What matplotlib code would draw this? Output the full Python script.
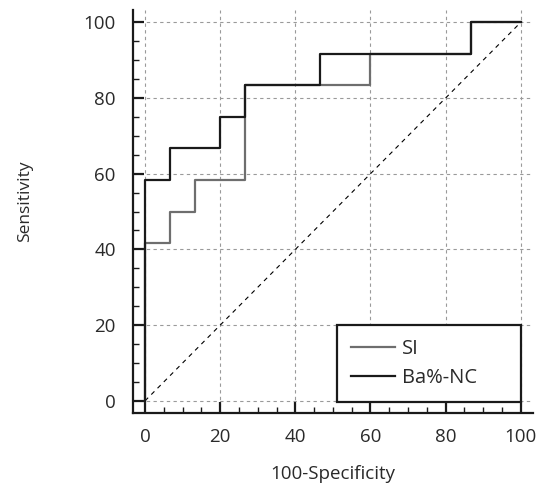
import matplotlib.pyplot as plt
from matplotlib.ticker import MultipleLocator

plt.rcParams['font.family'] = ['Open Sans', 'DejaVu Sans']

# ROC step curves (100-specificity, sensitivity)
si_x = [0, 0, 6.67, 6.67, 13.33, 13.33, 26.67, 26.67, 60, 60, 86.67, 86.67, 100]
si_y = [0, 41.67, 41.67, 50, 50, 58.33, 58.33, 83.33, 83.33, 91.67, 91.67, 100, 100]

ba_x = [0, 0, 6.67, 6.67, 20, 20, 26.67, 26.67, 46.67, 46.67, 86.67, 86.67, 100]
ba_y = [0, 58.33, 58.33, 66.67, 66.67, 75, 75, 83.33, 83.33, 91.67, 91.67, 100, 100]

ticks = [0, 20, 40, 60, 80, 100]

fig = plt.figure(figsize=(5.5, 4.83), dpi=100)
ax = fig.add_axes([0.2418, 0.145, 0.727, 0.834])

ax.plot([0, 100], [0, 100], color='black', linestyle=(0, (4, 4)), linewidth=0.8)
ax.plot(si_x, si_y, color='#6e6e6e', linewidth=1.6, label='SI')
ax.plot(ba_x, ba_y, color='#1a1a1a', linewidth=1.6, label='Ba%-NC')

ax.set_xlim(-3.2, 103.2)
ax.set_ylim(-3.2, 103.2)
ax.set_xticks(ticks)
ax.set_yticks(ticks)
ax.xaxis.set_minor_locator(MultipleLocator(5))
ax.yaxis.set_minor_locator(MultipleLocator(5))

ax.grid(True, which='major', color='#9a9a9a', linestyle=(0, (3, 3)), linewidth=0.8)
ax.set_axisbelow(True)

for side in ['top', 'right']:
    ax.spines[side].set_visible(False)
for side in ['left', 'bottom']:
    ax.spines[side].set_linewidth(1.6)
    ax.spines[side].set_color('#1a1a1a')

ax.tick_params(which='major', direction='in', length=8, width=1.6, colors='#1a1a1a',
               labelsize=13.5, labelcolor='#2a2a2a')
ax.tick_params(axis='x', which='major', pad=10.5)
ax.tick_params(axis='y', which='major', pad=12.5)
ax.tick_params(which='minor', direction='in', length=4, width=1.0, colors='#1a1a1a')

ax.set_xlabel('100-Specificity', fontsize=13.5, labelpad=14, color='#2a2a2a')
ax.set_ylabel('Sensitivity', fontsize=12.5, color='#2a2a2a')
ax.yaxis.set_label_coords(-0.25, 0.526)

# legend box spans 51 -> 100 on x, top edge at 20
leg = ax.legend(loc='upper right', bbox_to_anchor=(51.0, 0.3, 49.0, 19.7),
                bbox_transform=ax.transData, mode='expand',
                fontsize=14.5, fancybox=False, framealpha=1, edgecolor='#1a1a1a',
                borderaxespad=0, borderpad=0.7, handlelength=2.2, handletextpad=0.35,
                labelspacing=0.43)
leg.get_frame().set_linewidth(1.6)
for t in leg.get_texts():
    t.set_color('#2a2a2a')

fig.savefig('out.png', dpi=100)
